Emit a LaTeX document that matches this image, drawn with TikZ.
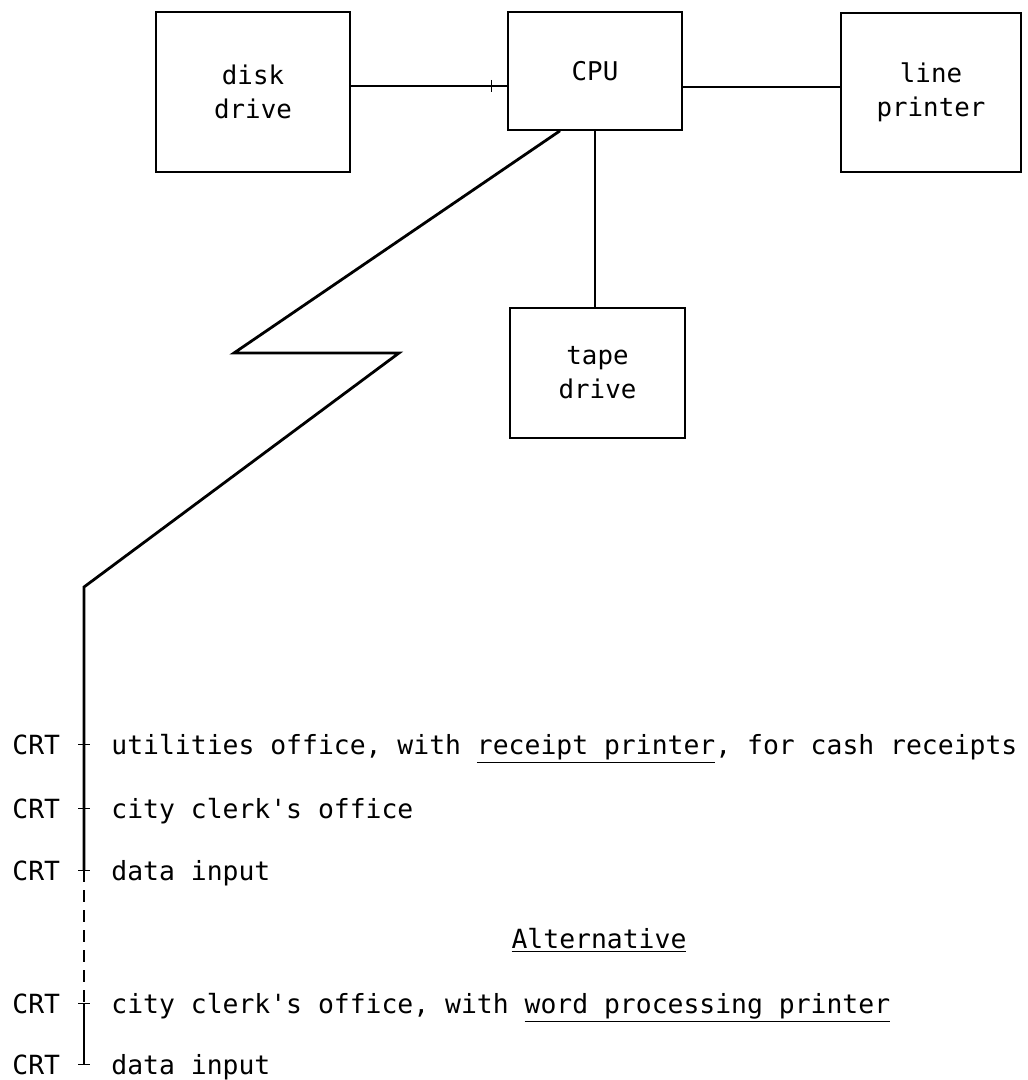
\documentclass[tikz,border=0pt]{standalone}
\usepackage{fontspec}
\setmonofont{DejaVu Sans Mono}
\usetikzlibrary{calc}
\tikzset{
  unit/.style={draw, line width=0.8pt, align=center, font=\ttfamily\fontsize{12.9}{17}\selectfont},
  lbl/.style={anchor=base west, inner sep=0pt, font=\ttfamily\fontsize{13.2}{16}\selectfont},
  link/.style={line width=0.7pt},
  comm/.style={line width=1.4pt},
}
\begin{document}
\begin{tikzpicture}[x=0.5pt, y=-0.5pt]
  \useasboundingbox (0,0) rectangle (1027,1080);
  \node[unit, minimum width=97pt, minimum height=80pt] (disk) at (253,92) {disk\\drive};
  \node[unit, minimum width=87pt, minimum height=59pt] (cpu) at (595,71) {CPU};
  \node[unit, minimum width=90pt, minimum height=79.5pt] (printer) at (931,92.5) {line\\printer};
  \node[unit, minimum width=87.5pt, minimum height=65pt] (tape) at (597.5,373) {tape\\drive};
  \draw[link] (disk.east |- 0,86) -- (cpu.west |- 0,86);
  \draw[link] ($(cpu.west |- 0,86)+(-16,-6)$) -- ++(0,12);
  \draw[link] (cpu.east |- 0,87) -- (printer.west |- 0,87);
  \draw[link] (cpu.south) -- (cpu.south |- tape.north);
  % terminals
  \foreach \i/\y/\txt in {1/744/{utilities office, with \underline{receipt printer}, for cash receipts},
                          2/808/{city clerk's office},
                          3/870/{data input},
                          4/1003/{city clerk's office, with \underline{word processing printer}},
                          5/1064/{data input}} {
    \node[lbl] (crt\i) at (12,\y+10) {CRT};
    \node[lbl] (txt\i) at (111,\y+10) {\txt};
  }
  \node[lbl, anchor=base] (alt) at (599,948) {\underline{Alternative}};
  \coordinate (bus) at (84,587);
  \draw[comm] ($(cpu.south)+(-35,0)$) -- (234,353) -- (399,353) -- (bus) -- (bus |- crt3.center);
  \draw[line width=1pt, dash pattern=on 6pt off 4pt] (bus |- crt3.center) -- (bus |- crt4.center);
  \draw[comm] (bus |- crt4.center) -- (bus |- crt5.center);
  \foreach \i in {1,...,5}
    \draw[link] ($(bus |- crt\i.center)+(-6,0)$) -- ++(12,0);
\end{tikzpicture}
\end{document}
